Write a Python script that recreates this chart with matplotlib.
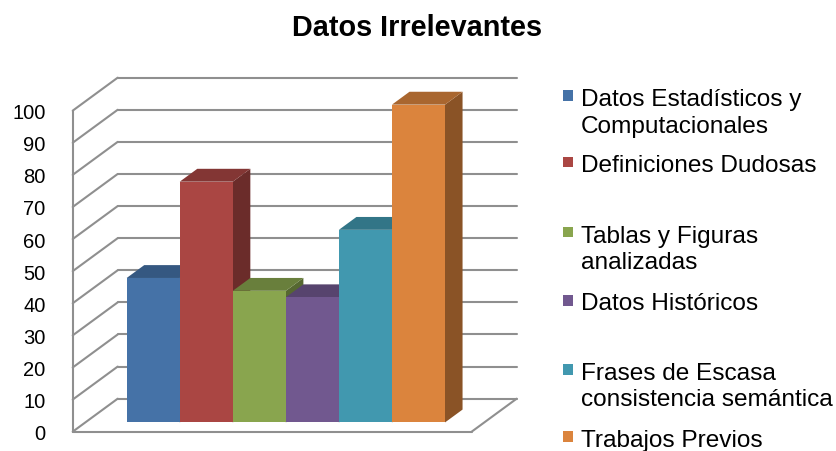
import numpy as np
import matplotlib.pyplot as plt
from matplotlib.patches import Polygon

plt.rcParams['font.family'] = ['Liberation Sans', 'DejaVu Sans']

categories = ['Datos Estadísticos y\nComputacionales', 'Definiciones Dudosas',
              'Tablas y Figuras\nanalizadas', 'Datos Históricos',
              'Frases de Escasa\nconsistencia semántica', 'Trabajos Previos']
values = [45, 75, 41, 39, 60, 99]
colors = ['#4572A7', '#AA4643', '#89A54E', '#71588F', '#4198AF', '#DB843D']
yticks = list(range(0, 101, 10))


def shade(c, f):
    c = c.lstrip('#')
    rgb = [int(c[i:i + 2], 16) / 255 * f for i in (0, 2, 4)]
    return tuple(rgb)


W, H = 837, 452
fig = plt.figure(figsize=(W / 100, H / 100), dpi=100)

# oblique "3d" frame
kx, ky = 0.848, 10.28          # full depth offset in data units
wall_l, wall_r = -0.78, 6.74
bar_d0, bar_dd = 0.28, 0.39    # depth where bars start / bar depth

ax = fig.add_axes([72.7 / W, 0.02854, (522.6 - 72.7) / W, 0.8595 - 0.02854])
ax.set_xlim(wall_l, 7.7)
ax.set_ylim(-2, 115)
for s in ax.spines.values():
    s.set_visible(False)
ax.set_xticks([])
ax.set_yticks(yticks)
ax.set_yticklabels([str(t) for t in yticks], fontsize=14.5)
ax.tick_params(axis='y', length=0, pad=19.5)

grid_kw = dict(color='#8f8f8f', lw=1.5, zorder=1, clip_on=False, solid_capstyle='round')
for t in yticks:
    # back wall
    ax.plot([wall_l + kx, wall_r + kx], [t + ky, t + ky], **grid_kw)
    # side wall diagonals
    ax.plot([wall_l, wall_l + kx], [t, t + ky], **grid_kw)
ax.plot([wall_l, wall_l], [0, yticks[-1]], **grid_kw)
ax.plot([wall_l, wall_r], [0, 0], **grid_kw)
ax.plot([wall_r, wall_r + kx], [0, ky], **grid_kw)

x = np.arange(len(values))
fdx, fdy = bar_d0 * kx, bar_d0 * ky
dkx, dky = bar_dd * kx, bar_dd * ky
ax.bar(x + fdx, values, width=1, bottom=fdy, align='edge', color=colors,
       linewidth=0, zorder=4)
for i, v in enumerate(values):
    x0, x1, y0, y1 = i + fdx, i + 1 + fdx, fdy, fdy + v
    top = [(x0, y1), (x1, y1), (x1 + dkx, y1 + dky), (x0 + dkx, y1 + dky)]
    side = [(x1, y0), (x1, y1), (x1 + dkx, y1 + dky), (x1 + dkx, y0 + dky)]
    ax.add_patch(Polygon(top, closed=True, facecolor=shade(colors[i], 0.77),
                         linewidth=0, zorder=3))
    ax.add_patch(Polygon(side, closed=True, facecolor=shade(colors[i], 0.63),
                         linewidth=0, zorder=2))

fig.text(0.4985, 1 - 36.5 / H, 'Datos Irrelevantes', ha='center', va='baseline',
         fontsize=20.8, fontweight='bold')

# legend, laid out like the original (pixel positions of first-line baselines)
first_baselines = [106, 172.3, 242.3, 310.5, 379.5, 447]
line_h = 26.8
for lab, c, b in zip(categories, colors, first_baselines):
    last = b + line_h * lab.count('\n')
    fig.text(581 / W, 1 - last / H, lab, ha='left', va='baseline',
             fontsize=17.6, linespacing=1.27)
    fig.patches.append(plt.Rectangle((562.7 / W, 1 - (b - 4) / H), 10.6 / W, 10.6 / H,
                                     transform=fig.transFigure, facecolor=c,
                                     edgecolor='none', figure=fig))

fig.savefig('out.png', dpi=100)
